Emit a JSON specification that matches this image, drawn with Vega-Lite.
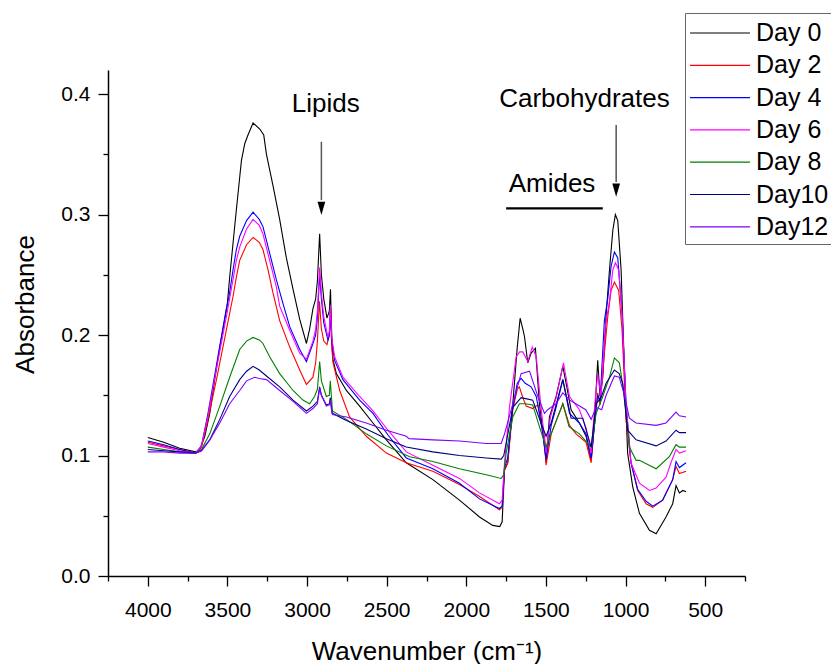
{
"$schema":"https://vega.github.io/schema/vega-lite/v6.json",
"autosize":{"type":"none"},
"padding":{"left":108,"top":70,"right":86,"bottom":88},
"width":637,"height":506,
"config":{"view":{"stroke":null},"font":"Liberation Sans","text":{"font":"Liberation Sans"}},
"datasets":{
"labels":[{"t":"Lipids","w":2883,"a":0.3853},{"t":"Carbohydrates","w":1258,"a":0.3895},{"t":"Amides","w":1462,"a":0.3189}],
"arrows":[{"w":2910,"top":0.3604,"bot":0.312,"head":0.3051},{"w":1059,"top":0.3743,"bot":0.327,"head":0.3203}],
"bar":[{"w1":1750,"w2":1143,"a":0.3051}],
"spectra":[
{"d":"Day 0","w":4000,"a":0.115},{"d":"Day 0","w":3900,"a":0.111},{"d":"Day 0","w":3800,"a":0.106},{"d":"Day 0","w":3700,"a":0.103},{"d":"Day 0","w":3674,"a":0.105},{"d":"Day 0","w":3642,"a":0.116},{"d":"Day 0","w":3611,"a":0.135},{"d":"Day 0","w":3580,"a":0.163},{"d":"Day 0","w":3548,"a":0.19},{"d":"Day 0","w":3502,"a":0.224},{"d":"Day 0","w":3486,"a":0.248},{"d":"Day 0","w":3465,"a":0.276},{"d":"Day 0","w":3444,"a":0.304},{"d":"Day 0","w":3423,"a":0.331},{"d":"Day 0","w":3412,"a":0.345},{"d":"Day 0","w":3391,"a":0.359},{"d":"Day 0","w":3371,"a":0.366},{"d":"Day 0","w":3339,"a":0.376},{"d":"Day 0","w":3297,"a":0.371},{"d":"Day 0","w":3272,"a":0.366},{"d":"Day 0","w":3255,"a":0.35},{"d":"Day 0","w":3214,"a":0.324},{"d":"Day 0","w":3172,"a":0.296},{"d":"Day 0","w":3130,"a":0.264},{"d":"Day 0","w":3088,"a":0.238},{"d":"Day 0","w":3046,"a":0.213},{"d":"Day 0","w":3004,"a":0.193},{"d":"Day 0","w":2984,"a":0.205},{"d":"Day 0","w":2963,"a":0.222},{"d":"Day 0","w":2946,"a":0.23},{"d":"Day 0","w":2935,"a":0.245},{"d":"Day 0","w":2921,"a":0.284},{"d":"Day 0","w":2910,"a":0.25},{"d":"Day 0","w":2895,"a":0.23},{"d":"Day 0","w":2875,"a":0.214},{"d":"Day 0","w":2860,"a":0.22},{"d":"Day 0","w":2853,"a":0.238},{"d":"Day 0","w":2845,"a":0.2},{"d":"Day 0","w":2838,"a":0.18},{"d":"Day 0","w":2816,"a":0.168},{"d":"Day 0","w":2753,"a":0.154},{"d":"Day 0","w":2670,"a":0.141},{"d":"Day 0","w":2586,"a":0.127},{"d":"Day 0","w":2502,"a":0.113},{"d":"Day 0","w":2377,"a":0.094},{"d":"Day 0","w":2210,"a":0.08},{"d":"Day 0","w":2043,"a":0.063},{"d":"Day 0","w":1917,"a":0.049},{"d":"Day 0","w":1834,"a":0.042},{"d":"Day 0","w":1790,"a":0.041},{"d":"Day 0","w":1775,"a":0.045},{"d":"Day 0","w":1760,"a":0.088},{"d":"Day 0","w":1740,"a":0.094},{"d":"Day 0","w":1708,"a":0.143},{"d":"Day 0","w":1680,"a":0.19},{"d":"Day 0","w":1662,"a":0.214},{"d":"Day 0","w":1645,"a":0.205},{"d":"Day 0","w":1635,"a":0.199},{"d":"Day 0","w":1614,"a":0.177},{"d":"Day 0","w":1593,"a":0.185},{"d":"Day 0","w":1566,"a":0.189},{"d":"Day 0","w":1541,"a":0.143},{"d":"Day 0","w":1520,"a":0.121},{"d":"Day 0","w":1499,"a":0.094},{"d":"Day 0","w":1478,"a":0.132},{"d":"Day 0","w":1436,"a":0.149},{"d":"Day 0","w":1394,"a":0.174},{"d":"Day 0","w":1369,"a":0.157},{"d":"Day 0","w":1342,"a":0.138},{"d":"Day 0","w":1290,"a":0.127},{"d":"Day 0","w":1248,"a":0.116},{"d":"Day 0","w":1216,"a":0.096},{"d":"Day 0","w":1196,"a":0.127},{"d":"Day 0","w":1175,"a":0.179},{"d":"Day 0","w":1160,"a":0.149},{"d":"Day 0","w":1143,"a":0.165},{"d":"Day 0","w":1122,"a":0.217},{"d":"Day 0","w":1101,"a":0.254},{"d":"Day 0","w":1080,"a":0.287},{"d":"Day 0","w":1064,"a":0.3},{"d":"Day 0","w":1049,"a":0.295},{"d":"Day 0","w":1028,"a":0.254},{"d":"Day 0","w":1007,"a":0.171},{"d":"Day 0","w":987,"a":0.102},{"d":"Day 0","w":955,"a":0.074},{"d":"Day 0","w":913,"a":0.052},{"d":"Day 0","w":850,"a":0.038},{"d":"Day 0","w":808,"a":0.035},{"d":"Day 0","w":746,"a":0.049},{"d":"Day 0","w":704,"a":0.06},{"d":"Day 0","w":683,"a":0.075},{"d":"Day 0","w":662,"a":0.069},{"d":"Day 0","w":640,"a":0.071},{"d":"Day 0","w":620,"a":0.07},
{"d":"Day 2","w":4000,"a":0.111},{"d":"Day 2","w":3900,"a":0.108},{"d":"Day 2","w":3800,"a":0.105},{"d":"Day 2","w":3700,"a":0.102},{"d":"Day 2","w":3663,"a":0.107},{"d":"Day 2","w":3622,"a":0.13},{"d":"Day 2","w":3569,"a":0.163},{"d":"Day 2","w":3507,"a":0.204},{"d":"Day 2","w":3465,"a":0.232},{"d":"Day 2","w":3444,"a":0.248},{"d":"Day 2","w":3423,"a":0.262},{"d":"Day 2","w":3380,"a":0.275},{"d":"Day 2","w":3339,"a":0.281},{"d":"Day 2","w":3300,"a":0.277},{"d":"Day 2","w":3277,"a":0.271},{"d":"Day 2","w":3245,"a":0.254},{"d":"Day 2","w":3214,"a":0.235},{"d":"Day 2","w":3172,"a":0.212},{"d":"Day 2","w":3109,"a":0.19},{"d":"Day 2","w":3046,"a":0.171},{"d":"Day 2","w":3004,"a":0.159},{"d":"Day 2","w":2963,"a":0.165},{"d":"Day 2","w":2946,"a":0.177},{"d":"Day 2","w":2935,"a":0.195},{"d":"Day 2","w":2922,"a":0.228},{"d":"Day 2","w":2910,"a":0.205},{"d":"Day 2","w":2895,"a":0.195},{"d":"Day 2","w":2875,"a":0.192},{"d":"Day 2","w":2860,"a":0.2},{"d":"Day 2","w":2853,"a":0.221},{"d":"Day 2","w":2845,"a":0.19},{"d":"Day 2","w":2837,"a":0.177},{"d":"Day 2","w":2795,"a":0.154},{"d":"Day 2","w":2733,"a":0.132},{"d":"Day 2","w":2628,"a":0.116},{"d":"Day 2","w":2502,"a":0.102},{"d":"Day 2","w":2377,"a":0.094},{"d":"Day 2","w":2210,"a":0.087},{"d":"Day 2","w":2043,"a":0.076},{"d":"Day 2","w":1917,"a":0.066},{"d":"Day 2","w":1792,"a":0.055},{"d":"Day 2","w":1775,"a":0.057},{"d":"Day 2","w":1760,"a":0.088},{"d":"Day 2","w":1740,"a":0.094},{"d":"Day 2","w":1708,"a":0.138},{"d":"Day 2","w":1680,"a":0.155},{"d":"Day 2","w":1667,"a":0.157},{"d":"Day 2","w":1645,"a":0.148},{"d":"Day 2","w":1624,"a":0.141},{"d":"Day 2","w":1583,"a":0.139},{"d":"Day 2","w":1551,"a":0.142},{"d":"Day 2","w":1531,"a":0.127},{"d":"Day 2","w":1509,"a":0.116},{"d":"Day 2","w":1499,"a":0.092},{"d":"Day 2","w":1467,"a":0.118},{"d":"Day 2","w":1394,"a":0.143},{"d":"Day 2","w":1352,"a":0.125},{"d":"Day 2","w":1311,"a":0.118},{"d":"Day 2","w":1248,"a":0.111},{"d":"Day 2","w":1216,"a":0.094},{"d":"Day 2","w":1196,"a":0.125},{"d":"Day 2","w":1175,"a":0.152},{"d":"Day 2","w":1160,"a":0.142},{"d":"Day 2","w":1133,"a":0.185},{"d":"Day 2","w":1112,"a":0.215},{"d":"Day 2","w":1091,"a":0.237},{"d":"Day 2","w":1070,"a":0.244},{"d":"Day 2","w":1043,"a":0.237},{"d":"Day 2","w":1022,"a":0.204},{"d":"Day 2","w":997,"a":0.13},{"d":"Day 2","w":966,"a":0.094},{"d":"Day 2","w":924,"a":0.071},{"d":"Day 2","w":871,"a":0.06},{"d":"Day 2","w":829,"a":0.057},{"d":"Day 2","w":767,"a":0.063},{"d":"Day 2","w":704,"a":0.08},{"d":"Day 2","w":683,"a":0.091},{"d":"Day 2","w":662,"a":0.085},{"d":"Day 2","w":620,"a":0.087},
{"d":"Day 4","w":4000,"a":0.112},{"d":"Day 4","w":3900,"a":0.109},{"d":"Day 4","w":3800,"a":0.105},{"d":"Day 4","w":3700,"a":0.102},{"d":"Day 4","w":3663,"a":0.108},{"d":"Day 4","w":3622,"a":0.135},{"d":"Day 4","w":3569,"a":0.175},{"d":"Day 4","w":3507,"a":0.222},{"d":"Day 4","w":3490,"a":0.232},{"d":"Day 4","w":3465,"a":0.254},{"d":"Day 4","w":3444,"a":0.271},{"d":"Day 4","w":3423,"a":0.282},{"d":"Day 4","w":3380,"a":0.295},{"d":"Day 4","w":3339,"a":0.302},{"d":"Day 4","w":3300,"a":0.296},{"d":"Day 4","w":3277,"a":0.29},{"d":"Day 4","w":3235,"a":0.268},{"d":"Day 4","w":3193,"a":0.246},{"d":"Day 4","w":3151,"a":0.226},{"d":"Day 4","w":3109,"a":0.207},{"d":"Day 4","w":3046,"a":0.188},{"d":"Day 4","w":3004,"a":0.178},{"d":"Day 4","w":2963,"a":0.193},{"d":"Day 4","w":2946,"a":0.2},{"d":"Day 4","w":2935,"a":0.215},{"d":"Day 4","w":2921,"a":0.25},{"d":"Day 4","w":2910,"a":0.23},{"d":"Day 4","w":2895,"a":0.21},{"d":"Day 4","w":2869,"a":0.196},{"d":"Day 4","w":2860,"a":0.2},{"d":"Day 4","w":2854,"a":0.221},{"d":"Day 4","w":2845,"a":0.195},{"d":"Day 4","w":2827,"a":0.179},{"d":"Day 4","w":2775,"a":0.163},{"d":"Day 4","w":2670,"a":0.146},{"d":"Day 4","w":2586,"a":0.135},{"d":"Day 4","w":2492,"a":0.117},{"d":"Day 4","w":2377,"a":0.098},{"d":"Day 4","w":2210,"a":0.089},{"d":"Day 4","w":2043,"a":0.077},{"d":"Day 4","w":1917,"a":0.064},{"d":"Day 4","w":1792,"a":0.056},{"d":"Day 4","w":1775,"a":0.058},{"d":"Day 4","w":1760,"a":0.09},{"d":"Day 4","w":1740,"a":0.098},{"d":"Day 4","w":1708,"a":0.14},{"d":"Day 4","w":1680,"a":0.16},{"d":"Day 4","w":1656,"a":0.164},{"d":"Day 4","w":1630,"a":0.16},{"d":"Day 4","w":1593,"a":0.157},{"d":"Day 4","w":1561,"a":0.149},{"d":"Day 4","w":1541,"a":0.135},{"d":"Day 4","w":1520,"a":0.118},{"d":"Day 4","w":1499,"a":0.097},{"d":"Day 4","w":1467,"a":0.125},{"d":"Day 4","w":1436,"a":0.14},{"d":"Day 4","w":1394,"a":0.163},{"d":"Day 4","w":1352,"a":0.135},{"d":"Day 4","w":1290,"a":0.127},{"d":"Day 4","w":1248,"a":0.118},{"d":"Day 4","w":1216,"a":0.098},{"d":"Day 4","w":1185,"a":0.138},{"d":"Day 4","w":1175,"a":0.15},{"d":"Day 4","w":1160,"a":0.145},{"d":"Day 4","w":1133,"a":0.212},{"d":"Day 4","w":1112,"a":0.23},{"d":"Day 4","w":1091,"a":0.257},{"d":"Day 4","w":1070,"a":0.269},{"d":"Day 4","w":1049,"a":0.264},{"d":"Day 4","w":1022,"a":0.218},{"d":"Day 4","w":997,"a":0.143},{"d":"Day 4","w":966,"a":0.094},{"d":"Day 4","w":924,"a":0.072},{"d":"Day 4","w":871,"a":0.062},{"d":"Day 4","w":829,"a":0.058},{"d":"Day 4","w":767,"a":0.063},{"d":"Day 4","w":704,"a":0.08},{"d":"Day 4","w":683,"a":0.095},{"d":"Day 4","w":662,"a":0.09},{"d":"Day 4","w":620,"a":0.094},
{"d":"Day 6","w":4000,"a":0.11},{"d":"Day 6","w":3900,"a":0.107},{"d":"Day 6","w":3800,"a":0.104},{"d":"Day 6","w":3700,"a":0.102},{"d":"Day 6","w":3663,"a":0.108},{"d":"Day 6","w":3622,"a":0.133},{"d":"Day 6","w":3569,"a":0.172},{"d":"Day 6","w":3507,"a":0.215},{"d":"Day 6","w":3465,"a":0.246},{"d":"Day 6","w":3444,"a":0.262},{"d":"Day 6","w":3423,"a":0.273},{"d":"Day 6","w":3380,"a":0.288},{"d":"Day 6","w":3339,"a":0.296},{"d":"Day 6","w":3300,"a":0.291},{"d":"Day 6","w":3277,"a":0.284},{"d":"Day 6","w":3235,"a":0.262},{"d":"Day 6","w":3193,"a":0.24},{"d":"Day 6","w":3172,"a":0.224},{"d":"Day 6","w":3109,"a":0.204},{"d":"Day 6","w":3046,"a":0.185},{"d":"Day 6","w":3004,"a":0.18},{"d":"Day 6","w":2963,"a":0.195},{"d":"Day 6","w":2946,"a":0.205},{"d":"Day 6","w":2935,"a":0.22},{"d":"Day 6","w":2921,"a":0.256},{"d":"Day 6","w":2910,"a":0.235},{"d":"Day 6","w":2895,"a":0.215},{"d":"Day 6","w":2869,"a":0.198},{"d":"Day 6","w":2860,"a":0.203},{"d":"Day 6","w":2854,"a":0.225},{"d":"Day 6","w":2845,"a":0.198},{"d":"Day 6","w":2827,"a":0.182},{"d":"Day 6","w":2775,"a":0.165},{"d":"Day 6","w":2670,"a":0.149},{"d":"Day 6","w":2586,"a":0.137},{"d":"Day 6","w":2492,"a":0.121},{"d":"Day 6","w":2377,"a":0.103},{"d":"Day 6","w":2210,"a":0.092},{"d":"Day 6","w":2043,"a":0.081},{"d":"Day 6","w":1917,"a":0.069},{"d":"Day 6","w":1792,"a":0.06},{"d":"Day 6","w":1775,"a":0.063},{"d":"Day 6","w":1760,"a":0.094},{"d":"Day 6","w":1729,"a":0.14},{"d":"Day 6","w":1687,"a":0.182},{"d":"Day 6","w":1665,"a":0.186},{"d":"Day 6","w":1645,"a":0.186},{"d":"Day 6","w":1614,"a":0.178},{"d":"Day 6","w":1586,"a":0.19},{"d":"Day 6","w":1561,"a":0.182},{"d":"Day 6","w":1531,"a":0.14},{"d":"Day 6","w":1499,"a":0.102},{"d":"Day 6","w":1472,"a":0.132},{"d":"Day 6","w":1436,"a":0.148},{"d":"Day 6","w":1390,"a":0.177},{"d":"Day 6","w":1352,"a":0.149},{"d":"Day 6","w":1290,"a":0.138},{"d":"Day 6","w":1248,"a":0.123},{"d":"Day 6","w":1216,"a":0.102},{"d":"Day 6","w":1189,"a":0.149},{"d":"Day 6","w":1175,"a":0.168},{"d":"Day 6","w":1154,"a":0.149},{"d":"Day 6","w":1127,"a":0.207},{"d":"Day 6","w":1101,"a":0.228},{"d":"Day 6","w":1080,"a":0.254},{"d":"Day 6","w":1064,"a":0.26},{"d":"Day 6","w":1043,"a":0.254},{"d":"Day 6","w":1022,"a":0.218},{"d":"Day 6","w":997,"a":0.143},{"d":"Day 6","w":966,"a":0.094},{"d":"Day 6","w":913,"a":0.077},{"d":"Day 6","w":850,"a":0.071},{"d":"Day 6","w":808,"a":0.073},{"d":"Day 6","w":746,"a":0.082},{"d":"Day 6","w":715,"a":0.094},{"d":"Day 6","w":683,"a":0.105},{"d":"Day 6","w":662,"a":0.102},{"d":"Day 6","w":620,"a":0.104},
{"d":"Day 8","w":4000,"a":0.107},{"d":"Day 8","w":3900,"a":0.105},{"d":"Day 8","w":3800,"a":0.103},{"d":"Day 8","w":3700,"a":0.102},{"d":"Day 8","w":3663,"a":0.105},{"d":"Day 8","w":3611,"a":0.118},{"d":"Day 8","w":3548,"a":0.141},{"d":"Day 8","w":3486,"a":0.165},{"d":"Day 8","w":3423,"a":0.188},{"d":"Day 8","w":3380,"a":0.195},{"d":"Day 8","w":3339,"a":0.198},{"d":"Day 8","w":3300,"a":0.196},{"d":"Day 8","w":3277,"a":0.193},{"d":"Day 8","w":3235,"a":0.182},{"d":"Day 8","w":3172,"a":0.168},{"d":"Day 8","w":3088,"a":0.154},{"d":"Day 8","w":3026,"a":0.146},{"d":"Day 8","w":2984,"a":0.143},{"d":"Day 8","w":2953,"a":0.149},{"d":"Day 8","w":2935,"a":0.155},{"d":"Day 8","w":2921,"a":0.178},{"d":"Day 8","w":2910,"a":0.162},{"d":"Day 8","w":2879,"a":0.149},{"d":"Day 8","w":2860,"a":0.15},{"d":"Day 8","w":2854,"a":0.162},{"d":"Day 8","w":2845,"a":0.145},{"d":"Day 8","w":2841,"a":0.137},{"d":"Day 8","w":2753,"a":0.13},{"d":"Day 8","w":2628,"a":0.118},{"d":"Day 8","w":2502,"a":0.108},{"d":"Day 8","w":2356,"a":0.099},{"d":"Day 8","w":2210,"a":0.095},{"d":"Day 8","w":2043,"a":0.089},{"d":"Day 8","w":1875,"a":0.084},{"d":"Day 8","w":1781,"a":0.081},{"d":"Day 8","w":1765,"a":0.084},{"d":"Day 8","w":1750,"a":0.102},{"d":"Day 8","w":1708,"a":0.132},{"d":"Day 8","w":1667,"a":0.143},{"d":"Day 8","w":1630,"a":0.143},{"d":"Day 8","w":1583,"a":0.142},{"d":"Day 8","w":1541,"a":0.124},{"d":"Day 8","w":1499,"a":0.107},{"d":"Day 8","w":1467,"a":0.118},{"d":"Day 8","w":1394,"a":0.143},{"d":"Day 8","w":1355,"a":0.124},{"d":"Day 8","w":1290,"a":0.118},{"d":"Day 8","w":1216,"a":0.107},{"d":"Day 8","w":1185,"a":0.135},{"d":"Day 8","w":1143,"a":0.149},{"d":"Day 8","w":1101,"a":0.165},{"d":"Day 8","w":1070,"a":0.181},{"d":"Day 8","w":1039,"a":0.177},{"d":"Day 8","w":1007,"a":0.149},{"d":"Day 8","w":976,"a":0.107},{"d":"Day 8","w":934,"a":0.096},{"d":"Day 8","w":913,"a":0.096},{"d":"Day 8","w":808,"a":0.089},{"d":"Day 8","w":725,"a":0.099},{"d":"Day 8","w":683,"a":0.109},{"d":"Day 8","w":662,"a":0.107},{"d":"Day 8","w":620,"a":0.107},
{"d":"Day10","w":4000,"a":0.105},{"d":"Day10","w":3900,"a":0.104},{"d":"Day10","w":3800,"a":0.103},{"d":"Day10","w":3700,"a":0.102},{"d":"Day10","w":3663,"a":0.104},{"d":"Day10","w":3611,"a":0.113},{"d":"Day10","w":3548,"a":0.13},{"d":"Day10","w":3486,"a":0.149},{"d":"Day10","w":3423,"a":0.163},{"d":"Day10","w":3380,"a":0.17},{"d":"Day10","w":3339,"a":0.174},{"d":"Day10","w":3300,"a":0.171},{"d":"Day10","w":3255,"a":0.166},{"d":"Day10","w":3172,"a":0.157},{"d":"Day10","w":3088,"a":0.146},{"d":"Day10","w":3004,"a":0.137},{"d":"Day10","w":2963,"a":0.141},{"d":"Day10","w":2935,"a":0.145},{"d":"Day10","w":2921,"a":0.157},{"d":"Day10","w":2910,"a":0.15},{"d":"Day10","w":2879,"a":0.142},{"d":"Day10","w":2860,"a":0.143},{"d":"Day10","w":2854,"a":0.148},{"d":"Day10","w":2845,"a":0.138},{"d":"Day10","w":2841,"a":0.135},{"d":"Day10","w":2753,"a":0.129},{"d":"Day10","w":2628,"a":0.122},{"d":"Day10","w":2502,"a":0.114},{"d":"Day10","w":2377,"a":0.107},{"d":"Day10","w":2210,"a":0.103},{"d":"Day10","w":2043,"a":0.1},{"d":"Day10","w":1875,"a":0.098},{"d":"Day10","w":1781,"a":0.097},{"d":"Day10","w":1765,"a":0.1},{"d":"Day10","w":1750,"a":0.11},{"d":"Day10","w":1708,"a":0.14},{"d":"Day10","w":1656,"a":0.148},{"d":"Day10","w":1620,"a":0.147},{"d":"Day10","w":1583,"a":0.146},{"d":"Day10","w":1531,"a":0.127},{"d":"Day10","w":1499,"a":0.116},{"d":"Day10","w":1467,"a":0.127},{"d":"Day10","w":1394,"a":0.163},{"d":"Day10","w":1342,"a":0.131},{"d":"Day10","w":1269,"a":0.131},{"d":"Day10","w":1216,"a":0.107},{"d":"Day10","w":1185,"a":0.143},{"d":"Day10","w":1154,"a":0.148},{"d":"Day10","w":1122,"a":0.16},{"d":"Day10","w":1070,"a":0.171},{"d":"Day10","w":1040,"a":0.168},{"d":"Day10","w":1018,"a":0.16},{"d":"Day10","w":987,"a":0.121},{"d":"Day10","w":934,"a":0.113},{"d":"Day10","w":808,"a":0.108},{"d":"Day10","w":746,"a":0.112},{"d":"Day10","w":683,"a":0.121},{"d":"Day10","w":662,"a":0.119},{"d":"Day10","w":620,"a":0.119},
{"d":"Day12","w":4000,"a":0.103},{"d":"Day12","w":3900,"a":0.103},{"d":"Day12","w":3800,"a":0.102},{"d":"Day12","w":3700,"a":0.102},{"d":"Day12","w":3663,"a":0.104},{"d":"Day12","w":3611,"a":0.113},{"d":"Day12","w":3548,"a":0.127},{"d":"Day12","w":3486,"a":0.143},{"d":"Day12","w":3423,"a":0.154},{"d":"Day12","w":3380,"a":0.162},{"d":"Day12","w":3329,"a":0.165},{"d":"Day12","w":3300,"a":0.164},{"d":"Day12","w":3255,"a":0.163},{"d":"Day12","w":3172,"a":0.154},{"d":"Day12","w":3088,"a":0.145},{"d":"Day12","w":3004,"a":0.135},{"d":"Day12","w":2963,"a":0.139},{"d":"Day12","w":2935,"a":0.143},{"d":"Day12","w":2921,"a":0.156},{"d":"Day12","w":2910,"a":0.15},{"d":"Day12","w":2879,"a":0.141},{"d":"Day12","w":2860,"a":0.142},{"d":"Day12","w":2854,"a":0.146},{"d":"Day12","w":2845,"a":0.136},{"d":"Day12","w":2841,"a":0.134},{"d":"Day12","w":2753,"a":0.132},{"d":"Day12","w":2628,"a":0.127},{"d":"Day12","w":2502,"a":0.121},{"d":"Day12","w":2377,"a":0.116},{"d":"Day12","w":2360,"a":0.114},{"d":"Day12","w":2210,"a":0.113},{"d":"Day12","w":2043,"a":0.112},{"d":"Day12","w":1875,"a":0.11},{"d":"Day12","w":1781,"a":0.11},{"d":"Day12","w":1760,"a":0.118},{"d":"Day12","w":1708,"a":0.143},{"d":"Day12","w":1656,"a":0.168},{"d":"Day12","w":1603,"a":0.17},{"d":"Day12","w":1551,"a":0.149},{"d":"Day12","w":1509,"a":0.135},{"d":"Day12","w":1489,"a":0.138},{"d":"Day12","w":1436,"a":0.143},{"d":"Day12","w":1394,"a":0.152},{"d":"Day12","w":1350,"a":0.146},{"d":"Day12","w":1300,"a":0.142},{"d":"Day12","w":1250,"a":0.138},{"d":"Day12","w":1216,"a":0.13},{"d":"Day12","w":1185,"a":0.14},{"d":"Day12","w":1150,"a":0.138},{"d":"Day12","w":1122,"a":0.15},{"d":"Day12","w":1070,"a":0.166},{"d":"Day12","w":1040,"a":0.165},{"d":"Day12","w":1007,"a":0.15},{"d":"Day12","w":976,"a":0.131},{"d":"Day12","w":934,"a":0.127},{"d":"Day12","w":808,"a":0.125},{"d":"Day12","w":746,"a":0.127},{"d":"Day12","w":683,"a":0.136},{"d":"Day12","w":662,"a":0.133},{"d":"Day12","w":620,"a":0.132}
]},
"resolve":{"axis":{"x":"independent","y":"independent"}},
"layer":[
{"data":{"name":"spectra"},
 "mark":{"type":"line","strokeWidth":1.1,"interpolate":"linear"},
 "encoding":{
  "x":{"field":"w","type":"quantitative","scale":{"domain":[250,4250],"reverse":true,"nice":false,"zero":false},
   "axis":{"orient":"bottom","values":[4000,3500,3000,2500,2000,1500,1000,500],"format":"d","grid":false,"tickSize":10,"tickWidth":1.3,"tickColor":"black","domainColor":"black","domainWidth":1.5,"labelFontSize":21,"labelColor":"black","labelPadding":13,"labelFont":"Liberation Sans","title":"Wavenumber (cm⁻¹)","titleFont":"Liberation Sans","titleFontSize":26,"titleFontWeight":"normal","titleColor":"black","titleBaseline":"alphabetic","titleY":83}},
  "y":{"field":"a","type":"quantitative","scale":{"domain":[0,0.42],"nice":false},
   "axis":{"orient":"left","values":[0,0.1,0.2,0.3,0.4],"format":".1f","grid":false,"tickSize":10,"tickWidth":1.3,"tickColor":"black","domainColor":"black","domainWidth":1.5,"labelFontSize":21,"labelColor":"black","labelPadding":8,"labelFont":"Liberation Sans","title":"Absorbance","titleFont":"Liberation Sans","titleFontSize":26,"titleFontWeight":"normal","titleColor":"black","titleBaseline":"alphabetic","titleAlign":"center","titleAngle":-90,"titleX":-75,"titleY":234}},
  "color":{"field":"d","type":"nominal","scale":{"domain":["Day 0","Day 2","Day 4","Day 6","Day 8","Day10","Day12"],"range":["#000000","#ff0000","#0000ff","#ff00ff","#008000","#000080","#8000ff"]},
   "legend":{"orient":"none","legendX":577,"legendY":-57,"title":null,"symbolType":"M-1,0H3","symbolSize":900,"symbolStrokeWidth":1.2,"labelFontSize":25,"labelFont":"Liberation Sans","labelColor":"black","labelOffset":35,"rowPadding":3.3,"padding":4,"strokeColor":"#666666","fillColor":"white","labelLimit":300}}
 }},
{"data":{"name":"bar"},
 "mark":{"type":"rule","color":"black","strokeWidth":2.2},
 "encoding":{
  "x":{"field":"w1","type":"quantitative","scale":{"domain":[250,4250],"reverse":true,"nice":false,"zero":false},
   "axis":{"orient":"bottom","values":[4250,3750,3250,2750,2250,1750,1250,750,250],"labels":false,"domain":false,"grid":false,"tickSize":5,"tickWidth":1.3,"tickColor":"black","title":null}},
  "x2":{"field":"w2"},
  "y":{"field":"a","type":"quantitative","scale":{"domain":[0,0.42],"nice":false},
   "axis":{"orient":"left","values":[0.05,0.15,0.25,0.35],"labels":false,"domain":false,"grid":false,"tickSize":5,"tickWidth":1.3,"tickColor":"black","title":null}}
 }},
{"data":{"name":"arrows"},
 "mark":{"type":"rule","color":"#555555","strokeWidth":1.5},
 "encoding":{
  "x":{"field":"w","type":"quantitative","axis":null},
  "y":{"field":"top","type":"quantitative","axis":null},
  "y2":{"field":"bot"}
 }},
{"data":{"name":"arrows"},
 "mark":{"type":"point","shape":"M-1,-1.7L1,-1.7L0,1.7Z","size":60,"filled":true,"color":"black","opacity":1},
 "encoding":{
  "x":{"field":"w","type":"quantitative","axis":null},
  "y":{"field":"head","type":"quantitative","axis":null}
 }},
{"data":{"name":"labels"},
 "mark":{"type":"text","fontSize":26,"font":"Liberation Sans","color":"black","align":"center","baseline":"alphabetic"},
 "encoding":{
  "x":{"field":"w","type":"quantitative","axis":null},
  "y":{"field":"a","type":"quantitative","axis":null},
  "text":{"field":"t"}
 }}
]
}
